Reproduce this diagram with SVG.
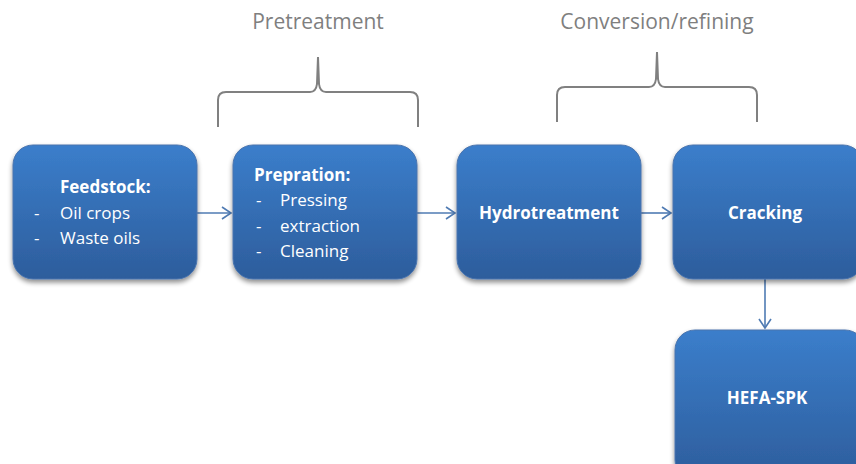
<svg xmlns="http://www.w3.org/2000/svg" width="856" height="464" viewBox="0 0 856 464">
  <defs>
    <linearGradient id="boxFill" x1="0" y1="0" x2="0" y2="1">
      <stop offset="0" stop-color="#3b7ecb"/>
      <stop offset="1" stop-color="#2d5d9c"/>
    </linearGradient>
    <filter id="shadow" x="-10%" y="-10%" width="120%" height="125%">
      <feGaussianBlur in="SourceAlpha" stdDeviation="2.5"/>
      <feOffset dx="0" dy="3" result="b"/>
      <feComponentTransfer><feFuncA type="linear" slope="0.45"/></feComponentTransfer>
      <feMerge><feMergeNode/><feMergeNode in="SourceGraphic"/></feMerge>
    </filter>
    <marker id="arrow" markerWidth="12" markerHeight="14" refX="10" refY="7" orient="auto" markerUnits="userSpaceOnUse">
      <path d="M1,1 L10,7 L1,13" fill="none" stroke="#4f7bb3" stroke-width="1.6"/>
    </marker>
  </defs>
  <style>
    .box { fill: url(#boxFill); stroke: #4a74ad; stroke-width: 1; filter: url(#shadow); }
    .t { font-family: "Open Sans", "Liberation Sans", sans-serif; fill: #ffffff; font-size: 17px; }
    .b { font-weight: bold; }
    .lbl { font-family: "Open Sans", "Liberation Sans", sans-serif; fill: #7f7f7f; font-size: 21px; text-anchor: middle; }
    .brace { fill: none; stroke: #808080; stroke-width: 2; }
    .conn { stroke: #4f7bb3; stroke-width: 1.6; fill: none; marker-end: url(#arrow); }
  </style>

  <rect width="856" height="464" fill="#ffffff"/>

  <!-- stage labels and braces -->
  <g id="pretreatment">
    <text class="lbl" x="318" y="29">Pretreatment</text>
    <path class="brace" d="M218,127 L218,100 Q218,92 226,92 L310,92 Q316,92 317,84 L318,57 L319,84 Q320,92 326,92 L410,92 Q418,92 418,100 L418,127"/>
  </g>
  <g id="conversion">
    <text class="lbl" x="657" y="29">Conversion/refining</text>
    <path class="brace" d="M557,122 L557,95 Q557,87 565,87 L649,87 Q655,87 656,79 L657,52 L658,79 Q659,87 665,87 L749,87 Q757,87 757,95 L757,122"/>
  </g>

  <!-- connectors -->
  <g id="connectors">
    <line class="conn" x1="197" y1="213" x2="231" y2="213"/>
    <line class="conn" x1="417" y1="213" x2="455" y2="213"/>
    <line class="conn" x1="641" y1="213" x2="671" y2="213"/>
    <line class="conn" x1="765" y1="279" x2="765" y2="328"/>
  </g>

  <!-- process steps -->
  <g id="feedstock">
    <rect class="box" x="13" y="145" width="184" height="134" rx="20"/>
    <text class="t b" x="60" y="193">Feedstock:</text>
    <text class="t" x="34" y="219">-</text>
    <text class="t" x="60" y="219">Oil crops</text>
    <text class="t" x="34" y="244">-</text>
    <text class="t" x="60" y="244">Waste oils</text>
  </g>
  <g id="preparation">
    <rect class="box" x="233" y="145" width="184" height="134" rx="20"/>
    <text class="t b" x="254" y="181">Prepration:</text>
    <text class="t" x="256" y="206">-</text>
    <text class="t" x="280" y="206">Pressing</text>
    <text class="t" x="256" y="232">-</text>
    <text class="t" x="280" y="232">extraction</text>
    <text class="t" x="256" y="257">-</text>
    <text class="t" x="280" y="257">Cleaning</text>
  </g>
  <g id="hydrotreatment">
    <rect class="box" x="457" y="145" width="184" height="134" rx="20"/>
    <text class="t b" x="549" y="219" text-anchor="middle">Hydrotreatment</text>
  </g>
  <g id="cracking">
    <rect class="box" x="673" y="145" width="190" height="134" rx="20"/>
    <text class="t b" x="765" y="219" text-anchor="middle">Cracking</text>
  </g>
  <g id="hefa-spk">
    <rect class="box" x="675" y="330" width="190" height="150" rx="20"/>
    <text class="t b" x="767" y="404" text-anchor="middle">HEFA-SPK</text>
  </g>
</svg>
